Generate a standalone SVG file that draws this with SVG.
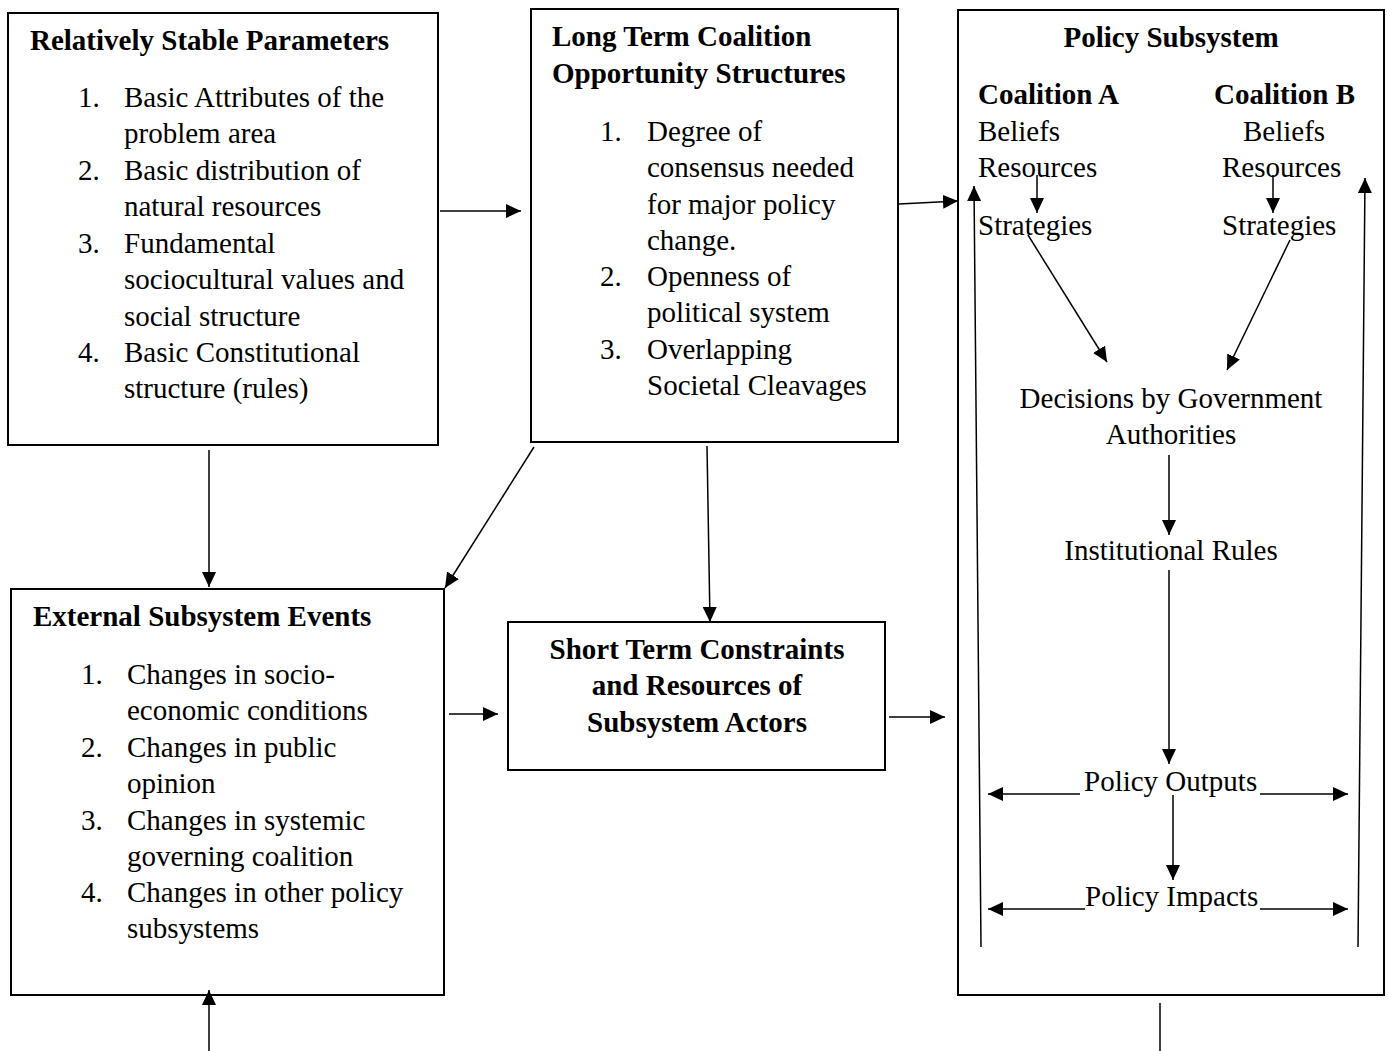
<svg xmlns="http://www.w3.org/2000/svg" width="1388" height="1051" viewBox="0 0 1388 1051">
<defs>
<marker id="ah" viewBox="0 0 15 14" refX="15" refY="7" markerWidth="15" markerHeight="14" markerUnits="userSpaceOnUse" orient="auto-start-reverse">
<path d="M0,0 L15,7 L0,14 Z" fill="#000"/>
</marker>
<style>
text{font-family:"Liberation Serif","Times New Roman",serif;font-size:29px;fill:#000}
.b{font-weight:bold}
.m{text-anchor:middle}
.box{fill:#fff;stroke:#000;stroke-width:2}
.c line,.c polyline{stroke:#000;stroke-width:1.5;fill:none}
.a{marker-end:url(#ah)}
.d{marker-start:url(#ah);marker-end:url(#ah)}
</style>
</defs>
<rect width="1388" height="1051" fill="#fff"/>
<g id="stable-parameters">
<rect class="box" x="8" y="13" width="430" height="432"/>
<text class="b" x="30" y="50">Relatively Stable Parameters</text>
<text x="78" y="107">1.</text><text x="124" y="107">Basic Attributes of the</text>
<text x="124" y="143">problem area</text>
<text x="78" y="180">2.</text><text x="124" y="180">Basic distribution of</text>
<text x="124" y="216">natural resources</text>
<text x="78" y="253">3.</text><text x="124" y="253">Fundamental</text>
<text x="124" y="289">sociocultural values and</text>
<text x="124" y="326">social structure</text>
<text x="78" y="362">4.</text><text x="124" y="362">Basic Constitutional</text>
<text x="124" y="398">structure (rules)</text>
</g>
<g id="opportunity-structures">
<rect class="box" x="531" y="9" width="367" height="433"/>
<text class="b" x="552" y="46">Long Term Coalition</text>
<text class="b" x="552" y="83">Opportunity Structures</text>
<text x="600" y="141">1.</text><text x="647" y="141">Degree of</text>
<text x="647" y="177">consensus needed</text>
<text x="647" y="214">for major policy</text>
<text x="647" y="250">change.</text>
<text x="600" y="286">2.</text><text x="647" y="286">Openness of</text>
<text x="647" y="322">political system</text>
<text x="600" y="359">3.</text><text x="647" y="359">Overlapping</text>
<text x="647" y="395">Societal Cleavages</text>
</g>
<g id="external-events">
<rect class="box" x="11" y="589" width="433" height="406"/>
<text class="b" x="33" y="626">External Subsystem Events</text>
<text x="81" y="684">1.</text><text x="127" y="684">Changes in socio-</text>
<text x="127" y="720">economic conditions</text>
<text x="81" y="757">2.</text><text x="127" y="757">Changes in public</text>
<text x="127" y="793">opinion</text>
<text x="81" y="830">3.</text><text x="127" y="830">Changes in systemic</text>
<text x="127" y="866">governing coalition</text>
<text x="81" y="902">4.</text><text x="127" y="902">Changes in other policy</text>
<text x="127" y="938">subsystems</text>
</g>
<g id="short-term-constraints">
<rect class="box" x="508" y="622" width="377" height="148"/>
<text class="b m" x="697" y="659">Short Term Constraints</text>
<text class="b m" x="697" y="695">and Resources of</text>
<text class="b m" x="697" y="732">Subsystem Actors</text>
</g>
<g id="policy-subsystem">
<rect class="box" x="958" y="10" width="426" height="985"/>
<text class="b m" x="1171" y="47">Policy Subsystem</text>
<text class="b" x="978" y="104">Coalition A</text>
<text class="b" x="1214" y="104">Coalition B</text>
<text x="978" y="141">Beliefs</text>
<text x="1243" y="141">Beliefs</text>
<text x="978" y="177">Resources</text>
<text x="1222" y="177">Resources</text>
<text x="978" y="235">Strategies</text>
<text x="1222" y="235">Strategies</text>
<text class="m" x="1171" y="408">Decisions by Government</text>
<text class="m" x="1171" y="444">Authorities</text>
<text class="m" x="1171" y="560">Institutional Rules</text>
<text x="1084" y="791">Policy Outputs</text>
<text x="1085" y="906">Policy Impacts</text>
</g>
<g class="c" id="connectors">
<line class="a" x1="440" y1="211" x2="521" y2="211"/>
<line class="a" x1="899" y1="204" x2="958" y2="201"/>
<line class="a" x1="209" y1="450" x2="209" y2="587"/>
<line class="a" x1="534" y1="447" x2="445" y2="588"/>
<line class="a" x1="707" y1="446" x2="710" y2="622"/>
<line class="a" x1="449" y1="714" x2="498" y2="714"/>
<line class="a" x1="889" y1="717" x2="945" y2="717"/>
<line class="a" x1="209" y1="1051" x2="209" y2="990"/>
<line x1="1160" y1="1003" x2="1160" y2="1051"/>
<line class="a" x1="981" y1="947" x2="974" y2="186"/>
<line class="a" x1="1358" y1="947" x2="1365" y2="178"/>
<line class="a" x1="1037" y1="175" x2="1037" y2="213"/>
<line class="a" x1="1273" y1="175" x2="1273" y2="213"/>
<line class="a" x1="1028" y1="235" x2="1107" y2="362"/>
<line class="a" x1="1290" y1="240" x2="1227" y2="370"/>
<line class="a" x1="1169" y1="455" x2="1169" y2="535"/>
<line class="a" x1="1169" y1="570" x2="1169" y2="764"/>
<line class="a" x1="1173" y1="795" x2="1173" y2="880"/>
<line class="a" x1="1080" y1="794" x2="988" y2="794"/>
<line class="a" x1="1260" y1="794" x2="1348" y2="794"/>
<line class="a" x1="1085" y1="909" x2="988" y2="909"/>
<line class="a" x1="1260" y1="909" x2="1348" y2="909"/>
</g>
</svg>
